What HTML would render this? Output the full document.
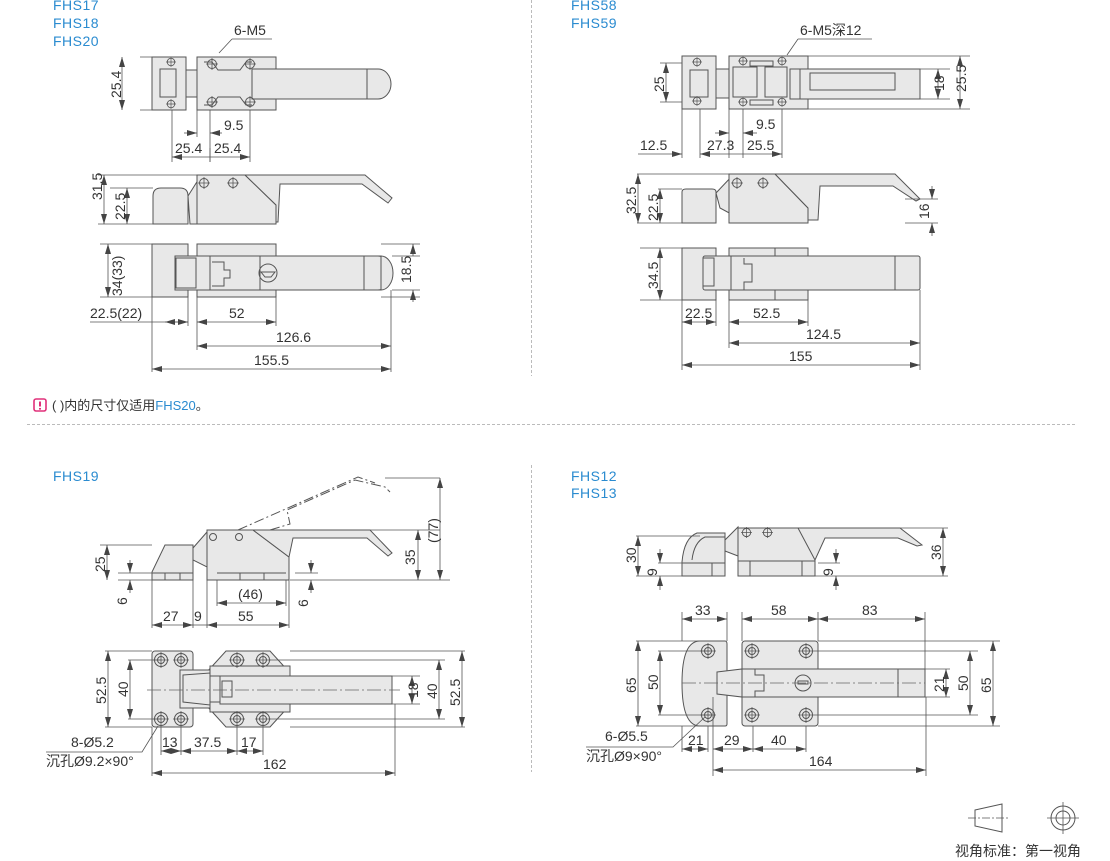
<!DOCTYPE html>
<html><head><meta charset="utf-8">
<style>
html,body{margin:0;padding:0;background:#fff;}
svg{display:block;}
text{font-family:"Liberation Sans","Noto Sans CJK SC",sans-serif;fill:#333;font-size:14px;}
.lb{fill:#2a8bd0;font-size:14px;letter-spacing:0.5px;}
.o{fill:#e8e8e8;stroke:#555;stroke-width:1;}
.n{fill:none;stroke:#555;stroke-width:1;}
.d{stroke:#555;stroke-width:0.8;fill:none;}
.c{stroke:#666;stroke-width:0.8;fill:none;stroke-dasharray:14 3 2 3;}
.h{fill:none;stroke:#555;stroke-width:0.9;}
</style></head><body>
<svg width="1110" height="861" viewBox="0 0 1110 861" xmlns="http://www.w3.org/2000/svg">
<defs>
<marker id="a" viewBox="0 0 10 6" refX="10" refY="3" markerWidth="10" markerHeight="6" orient="auto-start-reverse" markerUnits="userSpaceOnUse">
<path d="M0,0 L10,3 L0,6 z" fill="#444"/></marker>
<symbol id="hole" viewBox="-6 -6 12 12"><circle r="4.5" fill="none" stroke="#555" stroke-width="1"/><path d="M-6,0H6M0,-6V6" stroke="#555" stroke-width="0.8"/></symbol>
<symbol id="hole2" viewBox="-8 -8 16 16"><circle r="6.5" fill="none" stroke="#555" stroke-width="1"/><circle r="3.5" fill="none" stroke="#555" stroke-width="1"/><path d="M-8,0H8M0,-8V8" stroke="#555" stroke-width="0.8"/></symbol>
</defs>

<!-- separators -->
<line x1="27" y1="424.5" x2="1075" y2="424.5" stroke="#bbb" stroke-dasharray="3 2"/>
<line x1="531.5" y1="0" x2="531.5" y2="376" stroke="#bbb" stroke-dasharray="3 2"/>
<line x1="531.5" y1="465" x2="531.5" y2="772" stroke="#bbb" stroke-dasharray="3 2"/>

<!-- ===== FHS17 ===== -->
<text class="lb" x="53" y="10">FHS17</text>
<text class="lb" x="53" y="28">FHS18</text>
<text class="lb" x="53" y="46">FHS20</text>

<!-- top view -->
<rect class="o" x="152" y="57" width="34" height="53"/>
<rect class="n" x="160" y="69" width="16" height="28"/>
<rect class="o" x="186" y="70" width="11" height="27"/>
<rect class="o" x="197" y="57" width="79" height="53"/>
<rect class="o" x="252" y="69" width="115" height="30"/>
<path class="o" d="M367,69 H378 A13,15 0 0 1 378,99 H367 Z"/>
<path class="n" d="M204,62 L212,62 L218,70 L240,70 L246,62 L252,62 M204,105 L212,105 L218,97 L240,97 L246,105 L252,105"/>
<use href="#hole" x="206" y="58" width="12" height="12"/><use href="#hole" x="206" y="96" width="12" height="12"/>
<use href="#hole" x="244" y="58" width="12" height="12"/><use href="#hole" x="244" y="96" width="12" height="12"/>
<use href="#hole" x="166" y="57" width="10" height="10"/><use href="#hole" x="166" y="99" width="10" height="10"/>
<text x="234" y="35">6-M5</text>
<path class="d" d="M232,39 H272 M232,39 L219,53"/>
<path class="d" d="M140,57 H186 M140,110 H186"/>
<line class="d" x1="122" y1="57" x2="122" y2="110" marker-start="url(#a)" marker-end="url(#a)"/>
<text transform="translate(121,98) rotate(-90)">25.4</text>
<path class="d" d="M172,110 V162 M210,110 V162 M250,110 V162 M197,110 V137"/>
<line class="d" x1="184" y1="133" x2="197" y2="133" marker-end="url(#a)"/>
<line class="d" x1="222" y1="133" x2="210" y2="133" marker-end="url(#a)"/>
<text x="224" y="130">9.5</text>
<line class="d" x1="172" y1="157" x2="250" y2="157" marker-start="url(#a)" marker-end="url(#a)"/>
<line class="d" x1="210" y1="148" x2="210" y2="162"/>
<text x="175" y="153">25.4</text><text x="214" y="153">25.4</text>

<!-- side view -->
<path class="o" d="M153,224 V196 Q153,188 161,188 H180 Q188,188 188,196 V224 Z"/>
<path class="o" d="M188,196 L200,177 L200,224 L190,224 Z"/>
<path class="o" d="M197,224 V175 H245 L276,205 V224 Z"/>
<path class="o" d="M245,175 H365 L392,198 L388,203 L362,184 H280 L278,222 L276,222 V205 Z"/>
<use href="#hole" x="198" y="177" width="12" height="12"/><use href="#hole" x="227" y="177" width="12" height="12"/>
<path class="d" d="M98,175 H197 M110,188 H153 M98,224 H153"/>
<line class="d" x1="104" y1="175" x2="104" y2="224" marker-start="url(#a)" marker-end="url(#a)"/>
<line class="d" x1="127" y1="188" x2="127" y2="224" marker-start="url(#a)" marker-end="url(#a)"/>
<text transform="translate(102,200) rotate(-90)">31.5</text>
<text transform="translate(125,220) rotate(-90)">22.5</text>

<!-- bottom view -->
<rect class="o" x="152" y="244" width="36" height="53"/>
<rect class="o" x="197" y="244" width="79" height="53"/>
<rect class="o" x="175" y="256" width="206" height="34"/>
<path class="o" d="M381,256 H378 A13,17 0 0 1 378,290 H381 Z"/>
<path class="o" d="M381,256 A12,17 0 0 1 381,290 Z"/>
<rect class="n" x="176" y="258" width="20" height="30"/>
<path class="n" d="M210,256 V290 M260,256 V290 M364,256 V290 M212,262 H224 V270 H230 V278 H224 V286 H212"/>
<circle cx="268" cy="273" r="9" class="n"/><path class="n" d="M261,272 H275 L271,277 H265 Z"/>
<path class="d" d="M100,244 H152 M100,297 H152 M381,244 H420 M381,297 H420"/>
<line class="d" x1="108" y1="244" x2="108" y2="297" marker-start="url(#a)" marker-end="url(#a)"/>
<text transform="translate(122,296) rotate(-90)">34(33)</text>
<line class="d" x1="413" y1="244" x2="413" y2="256" marker-start="url(#a)"/>
<line class="d" x1="413" y1="290" x2="413" y2="302" marker-start="url(#a)"/>
<path class="d" d="M392,256 H420 M392,290 H420"/>
<text transform="translate(411,283) rotate(-90)">18.5</text>
<path class="d" d="M152,297 V372 M188,297 V326 M197,297 V350 M276,297 V326 M391,290 V372"/>
<path class="d" d="M90,322 H188"/>
<line class="d" x1="165" y1="322" x2="188" y2="322" marker-start="url(#a)" marker-end="url(#a)"/>
<text x="90" y="318">22.5(22)</text>
<line class="d" x1="197" y1="322" x2="276" y2="322" marker-start="url(#a)" marker-end="url(#a)"/>
<text x="229" y="318">52</text>
<line class="d" x1="197" y1="346" x2="391" y2="346" marker-start="url(#a)" marker-end="url(#a)"/>
<text x="276" y="342">126.6</text>
<line class="d" x1="152" y1="369" x2="391" y2="369" marker-start="url(#a)" marker-end="url(#a)"/>
<text x="254" y="365">155.5</text>

<!-- ===== FHS58 ===== -->
<text class="lb" x="571" y="10">FHS58</text>
<text class="lb" x="571" y="28">FHS59</text>
<rect class="o" x="682" y="56" width="34" height="53"/>
<rect class="n" x="690" y="70" width="18" height="27"/>
<rect class="o" x="716" y="69" width="13" height="29"/>
<rect class="o" x="729" y="56" width="79" height="53"/>
<rect class="o" x="790" y="69" width="130" height="30"/>
<path class="n" d="M733,67 H757 V97 H733 Z M765,67 H787 V97 H765 Z M750,61 H773 V66 H750 Z M750,100 H773 V105 H750 Z M800,69 V99 M810,73 H895 V90 H810 Z"/>
<use href="#hole" x="692" y="57" width="10" height="10"/><use href="#hole" x="692" y="96" width="10" height="10"/>
<use href="#hole" x="738" y="56" width="10" height="10"/><use href="#hole" x="738" y="97" width="10" height="10"/>
<use href="#hole" x="777" y="56" width="10" height="10"/><use href="#hole" x="777" y="97" width="10" height="10"/>
<text x="800" y="35">6-M5深12</text>
<path class="d" d="M798,39 H872 M798,39 L787,55"/>
<path class="d" d="M660,63 H682 M660,102 H682 M920,69 H950 M920,99 H950"/>
<line class="d" x1="666" y1="63" x2="666" y2="102" marker-start="url(#a)" marker-end="url(#a)"/>
<text transform="translate(664,92) rotate(-90)">25</text>
<line class="d" x1="938" y1="69" x2="938" y2="99" marker-start="url(#a)" marker-end="url(#a)"/>
<line class="d" x1="960" y1="56" x2="960" y2="109" marker-start="url(#a)" marker-end="url(#a)"/>
<path class="d" d="M808,56 H970 M808,109 H970"/>
<text transform="translate(944,91) rotate(-90)">18</text>
<text transform="translate(966,92) rotate(-90)">25.5</text>
<path class="d" d="M682,109 V158 M700,109 V158 M729,109 V158 M743,109 V158 M782,109 V158"/>
<line class="d" x1="715" y1="133" x2="729" y2="133" marker-end="url(#a)"/>
<line class="d" x1="757" y1="133" x2="743" y2="133" marker-end="url(#a)"/>
<text x="756" y="129">9.5</text>
<line class="d" x1="638" y1="154" x2="682" y2="154" marker-end="url(#a)"/>
<line class="d" x1="700" y1="154" x2="782" y2="154" marker-start="url(#a)" marker-end="url(#a)"/>
<text x="640" y="150">12.5</text><text x="707" y="150">27.3</text><text x="747" y="150">25.5</text>
<!-- side -->
<path class="o" d="M682,223 V192 Q682,189 686,189 H712 Q716,189 716,192 V223 Z"/>
<path class="o" d="M716,193 L733,175 L733,215 L720,208 Z"/>
<path class="o" d="M729,223 V174 H775 L808,208 V223 Z"/>
<path class="o" d="M775,174 H895 L920,199 L916,201 L893,186 H820 L818,220 H808 V208 Z"/>
<use href="#hole" x="731" y="177" width="12" height="12"/><use href="#hole" x="757" y="177" width="12" height="12"/>
<path class="d" d="M637,174 H729 M658,189 H682 M637,223 H682 M905,199 H938 M905,223 H938"/>
<line class="d" x1="638" y1="174" x2="638" y2="223" marker-start="url(#a)" marker-end="url(#a)"/>
<line class="d" x1="660" y1="189" x2="660" y2="223" marker-start="url(#a)" marker-end="url(#a)"/>
<text transform="translate(636,214) rotate(-90)">32.5</text>
<text transform="translate(658,221) rotate(-90)">22.5</text>
<line class="d" x1="932" y1="186" x2="932" y2="199" marker-end="url(#a)"/>
<line class="d" x1="932" y1="236" x2="932" y2="223" marker-end="url(#a)"/>
<text transform="translate(929,219) rotate(-90)">16</text>
<!-- bottom -->
<rect class="o" x="682" y="248" width="34" height="52"/>
<rect class="o" x="729" y="248" width="79" height="52"/>
<rect class="o" x="703" y="256" width="217" height="34" rx="2"/>
<path class="n" d="M775,248 V256 M775,290 V300 M895,256 V290 M703,258 H714 V286 H703 M731,256 V290 M744,258 V264 H752 V282 H744 V290"/>
<path class="d" d="M640,248 H682 M640,300 H682"/>
<line class="d" x1="660" y1="248" x2="660" y2="300" marker-start="url(#a)" marker-end="url(#a)"/>
<text transform="translate(658,289) rotate(-90)">34.5</text>
<path class="d" d="M682,300 V370 M716,300 V326 M729,300 V348 M808,300 V326 M920,290 V370"/>
<line class="d" x1="682" y1="322" x2="716" y2="322" marker-start="url(#a)" marker-end="url(#a)"/>
<text x="685" y="318">22.5</text>
<line class="d" x1="729" y1="322" x2="808" y2="322" marker-start="url(#a)" marker-end="url(#a)"/>
<text x="753" y="318">52.5</text>
<line class="d" x1="729" y1="343" x2="920" y2="343" marker-start="url(#a)" marker-end="url(#a)"/>
<text x="806" y="339">124.5</text>
<line class="d" x1="682" y1="365" x2="920" y2="365" marker-start="url(#a)" marker-end="url(#a)"/>
<text x="789" y="361">155</text>

<!-- note -->
<rect x="34" y="399" width="12" height="12" rx="2" fill="none" stroke="#e0307a" stroke-width="1.6"/>
<rect x="39" y="401.5" width="2" height="5" fill="#e0307a"/><rect x="39" y="408" width="2" height="1.6" fill="#e0307a"/>
<text x="52" y="410" style="font-size:13px">( )内的尺寸仅适用<tspan fill="#2a8bd0">FHS20</tspan>。</text>

<!-- ===== FHS19 ===== -->
<text class="lb" x="53" y="481">FHS19</text>
<!-- side -->
<path class="o" d="M152,580 V572 L165,545 H193 V580 Z"/>
<path class="o" d="M193,548 L207,532 V567 L193,560 Z"/>
<path class="o" d="M207,580 V530 H253 L289,557 V580 Z"/>
<path class="o" d="M253,530 H370 L392,553 L388,556 L367,538 H293 L289,557 Z"/>
<path class="n" d="M270,530 L290,524 L287,510 L355,480 L385,487 L390,492 M238,530 L358,477 L375,483"  style="stroke-dasharray:10 3 2 3"/>
<circle cx="213" cy="537" r="3.5" class="n"/><circle cx="239" cy="537" r="3.5" class="n"/>
<path class="n" d="M152,573 H193 M217,573 H286 M165,573 V580 M180,573 V580 M240,573 V580 M264,573 V580"/>
<path class="d" d="M100,545 H152 M118,573 H152 M118,580 H152 M295,573 H318 M290,580 H450 M294,530 H440 M385,478 H440"/>
<line class="d" x1="107" y1="545" x2="107" y2="580" marker-start="url(#a)" marker-end="url(#a)"/>
<text transform="translate(105,572) rotate(-90)">25</text>
<line class="d" x1="130" y1="560" x2="130" y2="573" marker-end="url(#a)"/>
<line class="d" x1="130" y1="593" x2="130" y2="580" marker-end="url(#a)"/>
<text transform="translate(127,605) rotate(-90)">6</text>
<line class="d" x1="311" y1="560" x2="311" y2="573" marker-end="url(#a)"/>
<line class="d" x1="311" y1="593" x2="311" y2="580" marker-end="url(#a)"/>
<text transform="translate(308,607) rotate(-90)">6</text>
<line class="d" x1="418" y1="530" x2="418" y2="580" marker-start="url(#a)" marker-end="url(#a)"/>
<text transform="translate(415,565) rotate(-90)">35</text>
<line class="d" x1="440" y1="478" x2="440" y2="580" marker-start="url(#a)" marker-end="url(#a)"/>
<text transform="translate(438,543) rotate(-90)">(77)</text>
<path class="d" d="M152,580 V628 M193,580 V628 M207,580 V628 M289,580 V628 M217,580 V606 M286,580 V606"/>
<line class="d" x1="217" y1="603" x2="286" y2="603" marker-start="url(#a)" marker-end="url(#a)"/>
<text x="238" y="599">(46)</text>
<line class="d" x1="152" y1="625" x2="193" y2="625" marker-start="url(#a)" marker-end="url(#a)"/>
<line class="d" x1="193" y1="625" x2="207" y2="625"/>
<line class="d" x1="207" y1="625" x2="289" y2="625" marker-start="url(#a)" marker-end="url(#a)"/>
<text x="163" y="621">27</text><text x="194" y="621">9</text><text x="238" y="621">55</text>
<!-- top -->
<rect class="o" x="152" y="651" width="41" height="76" rx="3"/>
<path class="o" d="M226,651 H270 L290,673 V705 L270,727 H226 L206,705 V673 Z"/>
<rect class="o" x="180" y="670" width="30" height="38"/>
<path class="o" d="M183,675 L210,673 V705 L183,702 Z"/>
<rect class="o" x="210" y="666" width="80" height="10"/>
<rect class="o" x="210" y="702" width="80" height="10"/>
<rect class="o" x="220" y="676" width="172" height="28"/>
<rect class="o" x="222" y="681" width="10" height="16"/>
<use href="#hole2" x="153" y="652" width="16" height="16"/><use href="#hole2" x="173" y="652" width="16" height="16"/>
<use href="#hole2" x="153" y="711" width="16" height="16"/><use href="#hole2" x="173" y="711" width="16" height="16"/>
<use href="#hole2" x="229" y="652" width="16" height="16"/><use href="#hole2" x="255" y="652" width="16" height="16"/>
<use href="#hole2" x="229" y="711" width="16" height="16"/><use href="#hole2" x="255" y="711" width="16" height="16"/>
<line class="c" x1="147" y1="690" x2="400" y2="690"/>
<path class="d" d="M105,651 H152 M128,660 H161 M128,719 H161 M105,727 H152 M290,651 H465 M270,660 H445 M270,719 H445 M290,727 H465 M392,676 H420 M392,704 H420"/>
<line class="d" x1="108" y1="651" x2="108" y2="727" marker-start="url(#a)" marker-end="url(#a)"/>
<text transform="translate(106,704) rotate(-90)">52.5</text>
<line class="d" x1="130" y1="660" x2="130" y2="719" marker-start="url(#a)" marker-end="url(#a)"/>
<text transform="translate(128,697) rotate(-90)">40</text>
<line class="d" x1="412" y1="676" x2="412" y2="704" marker-start="url(#a)" marker-end="url(#a)"/>
<text transform="translate(418,698) rotate(-90)">18</text>
<line class="d" x1="439" y1="660" x2="439" y2="719" marker-start="url(#a)" marker-end="url(#a)"/>
<text transform="translate(437,699) rotate(-90)">40</text>
<line class="d" x1="462" y1="651" x2="462" y2="727" marker-start="url(#a)" marker-end="url(#a)"/>
<text transform="translate(460,706) rotate(-90)">52.5</text>
<path class="d" d="M152,727 V776 M161,727 V755 M181,727 V755 M237,727 V755 M263,727 V755 M395,704 V776"/>
<line class="d" x1="161" y1="751" x2="181" y2="751" marker-start="url(#a)" marker-end="url(#a)"/>
<line class="d" x1="181" y1="751" x2="237" y2="751" marker-start="url(#a)" marker-end="url(#a)"/>
<line class="d" x1="237" y1="751" x2="263" y2="751" marker-start="url(#a)" marker-end="url(#a)"/>
<text x="162" y="747">13</text><text x="194" y="747">37.5</text><text x="241" y="747">17</text>
<line class="d" x1="152" y1="773" x2="395" y2="773" marker-start="url(#a)" marker-end="url(#a)"/>
<text x="263" y="769">162</text>
<text x="71" y="747">8-Ø5.2</text>
<text x="46" y="766">沉孔Ø9.2×90°</text>
<path class="d" d="M46,752 H142 L158,726"/>

<!-- ===== FHS12 ===== -->
<text class="lb" x="571" y="481">FHS12</text>
<text class="lb" x="571" y="498">FHS13</text>
<!-- side -->
<path class="o" d="M682,576 V562 Q684,538 697,533 H725 V576 Z"/>
<path class="n" d="M692,560 Q694,542 705,537 H725"/>
<path class="o" d="M725,540 L738,527 V556 L725,551 Z"/>
<path class="o" d="M738,576 V528 H798 Q815,530 815,560 V576 Z"/>
<path class="o" d="M798,528 H900 L922,545 L917,546 L898,538 H825 L815,560 Z"/>
<use href="#hole" x="741" y="527" width="11" height="11"/><use href="#hole" x="762" y="527" width="11" height="11"/>
<path class="n" d="M682,563 H725 M738,561 H815 M712,563 V576 M750,561 V576 M802,561 V576"/>
<path class="d" d="M636,536 H700 M658,563 H682 M636,576 H682 M818,563 H840 M815,576 H948 M900,528 H948"/>
<line class="d" x1="638" y1="536" x2="638" y2="576" marker-start="url(#a)" marker-end="url(#a)"/>
<text transform="translate(636,563) rotate(-90)">30</text>
<line class="d" x1="660" y1="549" x2="660" y2="563" marker-end="url(#a)"/>
<line class="d" x1="660" y1="590" x2="660" y2="576" marker-end="url(#a)"/>
<text transform="translate(657,576) rotate(-90)">9</text>
<line class="d" x1="836" y1="549" x2="836" y2="563" marker-end="url(#a)"/>
<line class="d" x1="836" y1="590" x2="836" y2="576" marker-end="url(#a)"/>
<text transform="translate(833,576) rotate(-90)">9</text>
<line class="d" x1="943" y1="528" x2="943" y2="576" marker-start="url(#a)" marker-end="url(#a)"/>
<text transform="translate(941,560) rotate(-90)">36</text>
<!-- top -->
<path class="o" d="M700,641 H725 Q727,641 727,644 V724 Q727,726 725,726 H700 Q682,726 682,683 Q682,641 700,641 Z"/>
<rect class="o" x="742" y="641" width="76" height="85" rx="3"/>
<path class="o" d="M717,672 L742,669 V697 L717,694 Z"/>
<rect class="o" x="742" y="669" width="183" height="28"/>
<path class="n" d="M742,669 V697 M755,669 V675 H764 V691 H755 V697 M898,669 V697"/>
<circle cx="803" cy="683" r="8" class="n"/><rect x="798" y="681" width="10" height="3" class="n"/>
<use href="#hole2" x="700" y="643" width="16" height="16"/><use href="#hole2" x="700" y="707" width="16" height="16"/>
<use href="#hole2" x="744" y="643" width="16" height="16"/><use href="#hole2" x="798" y="643" width="16" height="16"/>
<use href="#hole2" x="744" y="707" width="16" height="16"/><use href="#hole2" x="798" y="707" width="16" height="16"/>
<line class="c" x1="682" y1="683" x2="925" y2="683"/>
<path class="d" d="M636,641 H700 M658,651 H710 M658,715 H710 M636,726 H700 M818,641 H1000 M814,651 H978 M814,715 H978 M818,726 H1000 M925,669 H950 M925,697 H950"/>
<line class="d" x1="638" y1="641" x2="638" y2="726" marker-start="url(#a)" marker-end="url(#a)"/>
<text transform="translate(636,693) rotate(-90)">65</text>
<line class="d" x1="660" y1="651" x2="660" y2="715" marker-start="url(#a)" marker-end="url(#a)"/>
<text transform="translate(658,690) rotate(-90)">50</text>
<line class="d" x1="946" y1="669" x2="946" y2="697" marker-start="url(#a)" marker-end="url(#a)"/>
<text transform="translate(944,692) rotate(-90)">21</text>
<line class="d" x1="970" y1="651" x2="970" y2="715" marker-start="url(#a)" marker-end="url(#a)"/>
<text transform="translate(968,691) rotate(-90)">50</text>
<line class="d" x1="993" y1="641" x2="993" y2="726" marker-start="url(#a)" marker-end="url(#a)"/>
<text transform="translate(991,693) rotate(-90)">65</text>
<path class="d" d="M682,612 V641 M727,612 V641 M742,612 V641 M818,612 V641 M925,612 V669"/>
<line class="d" x1="682" y1="619" x2="727" y2="619" marker-start="url(#a)" marker-end="url(#a)"/>
<line class="d" x1="742" y1="619" x2="818" y2="619" marker-start="url(#a)" marker-end="url(#a)"/>
<line class="d" x1="818" y1="619" x2="925" y2="619" marker-start="url(#a)" marker-end="url(#a)"/>
<text x="695" y="615">33</text><text x="771" y="615">58</text><text x="862" y="615">83</text>
<path class="d" d="M682,726 V752 M708,726 V752 M713,697 V776 M753,726 V752 M806,726 V752 M926,697 V776"/>
<line class="d" x1="682" y1="749" x2="708" y2="749" marker-start="url(#a)" marker-end="url(#a)"/>
<line class="d" x1="713" y1="749" x2="753" y2="749" marker-start="url(#a)" marker-end="url(#a)"/>
<line class="d" x1="753" y1="749" x2="806" y2="749" marker-start="url(#a)" marker-end="url(#a)"/>
<text x="688" y="745">21</text><text x="724" y="745">29</text><text x="771" y="745">40</text>
<line class="d" x1="713" y1="770" x2="926" y2="770" marker-start="url(#a)" marker-end="url(#a)"/>
<text x="809" y="766">164</text>
<text x="605" y="741">6-Ø5.5</text>
<text x="586" y="761">沉孔Ø9×90°</text>
<path class="d" d="M586,747 H673 L705,717"/>

<!-- projection symbol -->
<path class="n" d="M975,810 L1002,804 V832 L975,826 Z"/>
<path class="d" d="M968,818 H1009" style="stroke-dasharray:8 2 2 2"/>
<circle cx="1063" cy="818" r="12" class="n"/><circle cx="1063" cy="818" r="7" class="n"/>
<path class="d" d="M1047,818 H1079 M1063,802 V834"/>
<text x="955" y="856" style="font-size:14px">视角标准：第一视角</text>
</svg>
</body></html>
